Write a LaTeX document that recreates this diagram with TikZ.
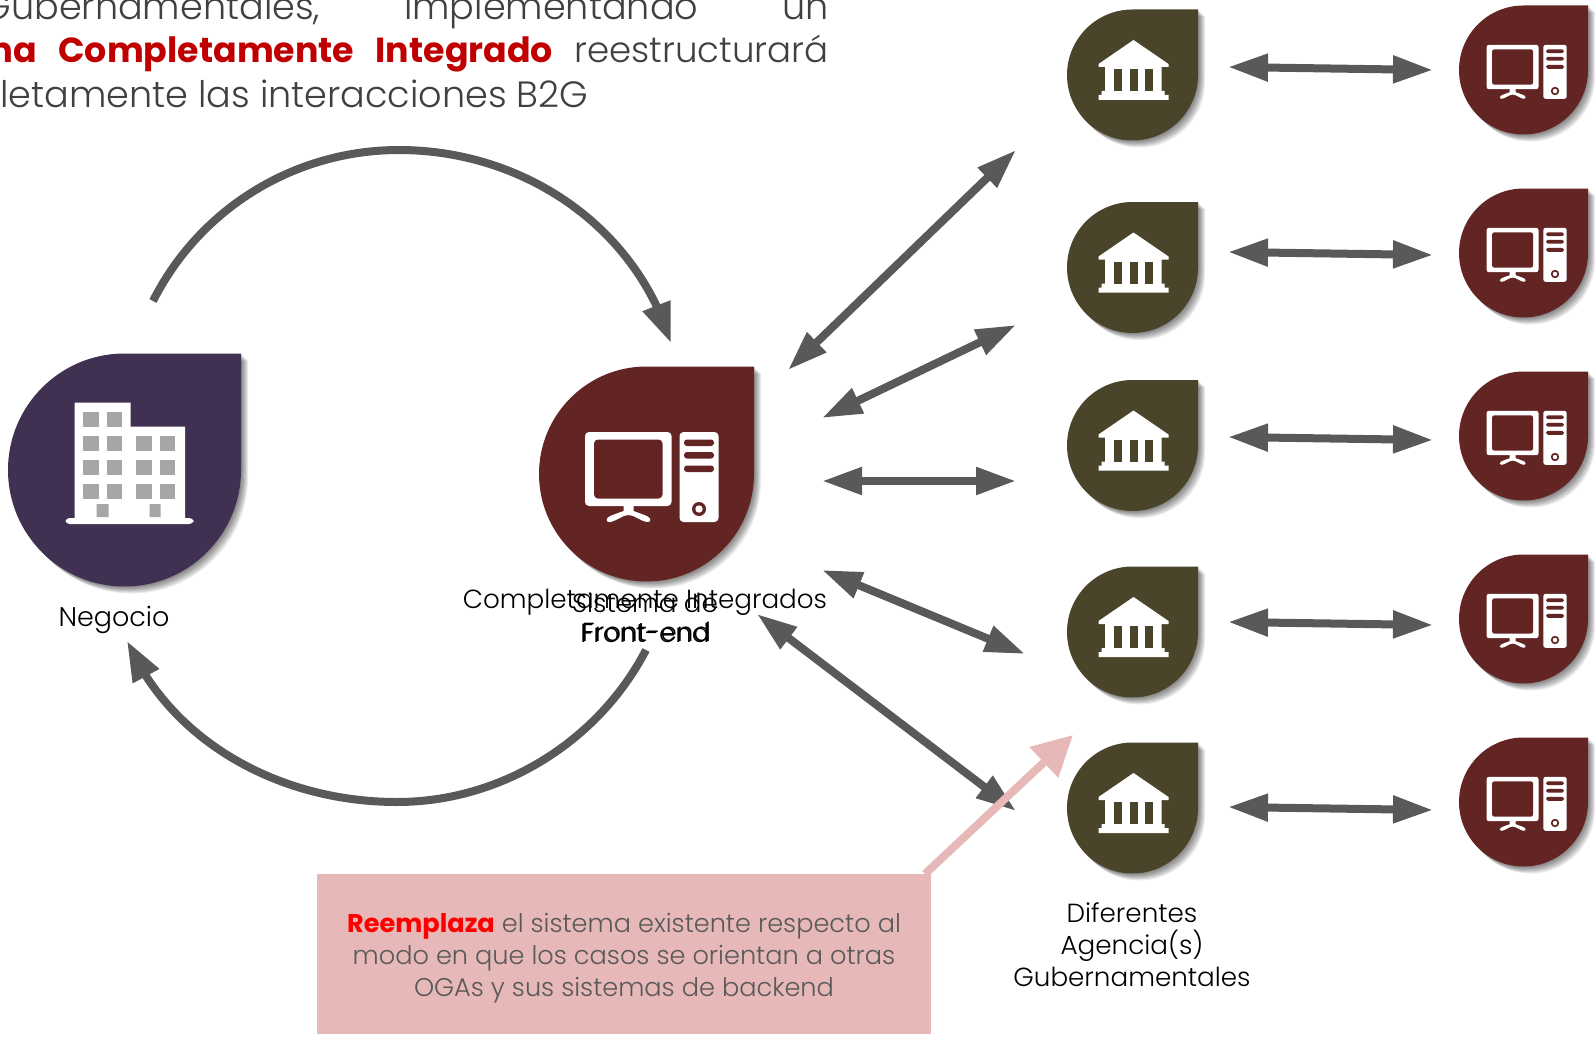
\documentclass[tikz,border=0pt]{standalone}
\usepackage{fontspec}
\setmainfont{Poppins Light}[BoldFont={Poppins Bold}]
\usetikzlibrary{arrows.meta,bending}
\definecolor{gris}{HTML}{595959}
\definecolor{rosa}{HTML}{E6B8B7}
\definecolor{morado}{HTML}{403152}
\definecolor{vino}{HTML}{632523}
\definecolor{oliva}{HTML}{4A452A}
\newcommand{\gota}[5]{
\coordinate (#1) at (#2,#3);
\begin{scope}[shift={(#2,#3)}]
\foreach \d in {1,...,7}{
\fill[black,opacity=.08,shift={(\d,\d)}] (0,-#4) -- (#4,-#4) -- (#4,0) arc[start angle=0,end angle=270,radius=#4] -- cycle;}
\fill[#5] (0,-#4) -- (#4,-#4) -- (#4,0) arc[start angle=0,end angle=270,radius=#4] -- cycle;
\end{scope}}
\newcommand{\compu}[4]{
\begin{scope}[shift={(#1,#2)},scale=#3]
\fill[white,rounded corners=#3*2pt] (-61.5,-42) rectangle (25,32);
\fill[#4,rounded corners=#3*2pt] (-52.5,-34.5) rectangle (16,24.5);
\fill[white] (-23,31) -- (-13,31) -- (-13,37) .. controls (-8,39) and (-1,41) .. (2,43) .. controls (5,45) and (4,49) .. (0,48) .. controls (-6,47) and (-12,41) .. (-18,41) .. controls (-24,41) and (-30,47) .. (-36,48) .. controls (-40,49) and (-41,45) .. (-38,43) .. controls (-35,41) and (-28,39) .. (-23,37) -- cycle;
\fill[white,rounded corners=#3*2pt] (33,-42) rectangle (72,48);
\foreach \a/\b in {-34.5/-28,-22/-15.5,-8.5/-2}
\fill[#4,rounded corners=#3*1.5pt] (37.5,\a) rectangle (67.5,\b);
\fill[#4] (52.5,35) circle[radius=7];
\fill[white] (52.5,35) circle[radius=3.7];
\end{scope}}
\newcommand{\banco}[4]{
\begin{scope}[shift={(#1,#2)}]
\fill[white] (1,-35) -- (36,-11) -- (36,-8) -- (29,-8) -- (29,16) -- (32,16) -- (32,20) -- (36,20) -- (36,25) -- (-34,25) -- (-34,20) -- (-31,20) -- (-31,16) -- (-27.5,16) -- (-27.5,-8) -- (-34,-8) -- (-34,-11) -- cycle;
\foreach \a/\b in {-18.5/-11,-3/5,12.5/20}
\fill[#4] (\a,-6) rectangle (\b,16);
\end{scope}}
\begin{document}
\begin{tikzpicture}
[x=0.5pt,y=-0.5pt,every node/.style={inner sep=0pt,font=\fontsize{13.1}{16}\selectfont},
flecha/.style={gris,line width=4pt,{Triangle[length=20pt,width=13pt]}-{Triangle[length=20pt,width=13pt]}},
curva/.style={gris,line width=4pt,-{Triangle[length=20pt,width=14pt]}},
encabezado/.style={anchor=base east,font=\fontsize{18.3}{22}\selectfont,text=black!75},
cajatexto/.style={anchor=base,text=gris,font=\fontsize{12.8}{16}\selectfont}]
\clip (0,0) rectangle (1595,1038);
\fill[white] (0,0) rectangle (1595,1038);

\node[encabezado] (t1) at (829,20) {\makebox[420pt][s]{\hspace{-3pt}Gubernamentales,\hfill implementando\hfill un}};
\node[encabezado] (t2) at (829,63) {\makebox[426pt][s]{\textcolor[HTML]{C00000}{\fontsize{17.4}{22}\selectfont\textbf{ma\hfill Completamente\hfill Integrado}}\hfill {\fontsize{17.8}{22}\selectfont reestructurará}}};
\node[encabezado,anchor=base west] (t3) at (0,108) {letamente las interacciones B2G};

\gota{neg}{124.5}{470}{116.5}{morado}
\fill[white] (74.5,402.5) rectangle (130.5,518.5) (130.5,426.5) rectangle (185,518.5);
\fill[white,rounded corners=2pt] (65.5,518) rectangle (193.5,524);
\begin{scope}[shift={(124.5,470)}]
\foreach \y in {-58,-34,-10,14}
\foreach \x in {-41.5,-18}
\fill[black!35] (\x,\y) rectangle +(15.7,15.3);
\foreach \y in {-34,-10,14}
\foreach \x in {11.5,35}
\fill[black!35] (\x,\y) rectangle +(15.7,15.3);
\fill[black!35] (-28,34) rectangle (-16,47) (25,34) rectangle (36,47);
\end{scope}

\gota{front}{646.5}{474}{107.5}{vino}
\compu{646.5}{474}{1}{vino}

\gota{ag1}{1132.5}{75}{65.5}{oliva}
\gota{ag2}{1132.5}{267.5}{65.5}{oliva}
\gota{ag3}{1132.5}{445.5}{65.5}{oliva}
\gota{ag4}{1132.5}{632}{65.5}{oliva}
\gota{ag5}{1132.5}{808}{65.5}{oliva}
\foreach \y in {75,267.5,445.5,632,808}
\banco{1132.5}{\y}{1}{oliva};

\gota{si1}{1523.5}{70}{64.5}{vino}
\gota{si2}{1523.5}{253}{64.5}{vino}
\gota{si3}{1523.5}{436}{64.5}{vino}
\gota{si4}{1523.5}{619}{64.5}{vino}
\gota{si5}{1523.5}{802}{64.5}{vino}
\foreach \y in {70,253,436,619,802}
\compu{1523.5}{\y}{.6}{vino};

\coordinate (h1a) at (1228,67);
\coordinate (h1b) at (1433,70);
\coordinate (h2a) at (1228,252);
\coordinate (h2b) at (1433,255);
\coordinate (h3a) at (1228,437);
\coordinate (h3b) at (1433,440);
\coordinate (h4a) at (1228,622);
\coordinate (h4b) at (1433,625);
\coordinate (h5a) at (1228,807);
\coordinate (h5b) at (1433,810);
\draw[flecha] (h1a) to (h1b);
\draw[flecha] (h2a) to (h2b);
\draw[flecha] (h3a) to (h3b);
\draw[flecha] (h4a) to (h4b);
\draw[flecha] (h5a) to (h5b);

\coordinate (f1a) at (788,370);
\coordinate (f1b) at (1016,150);
\coordinate (f2a) at (822,418);
\coordinate (f2b) at (1016,325);
\coordinate (f3a) at (822,481);
\coordinate (f3b) at (1016,481);
\coordinate (f4a) at (822,570);
\coordinate (f4b) at (1025,654);
\coordinate (f5a) at (757,614);
\coordinate (f5b) at (1016,811);
\draw[flecha] (f1a) to (f1b);
\draw[flecha] (f2a) to (f2b);
\draw[flecha] (f3a) to (f3b);
\draw[flecha] (f4a) to (f4b);
\draw[flecha] (f5a) to (f5b);

\coordinate (c1) at (153,301);
\coordinate (c2) at (399,150);
\coordinate (c3) at (671,343);
\coordinate (c4) at (646,650);
\coordinate (c5) at (397,802);
\coordinate (c6) at (127,641);
\draw[curva] (c1) .. controls (200,208) and (295,150) .. (c2) .. controls (522,150) and (635,225) .. (c3);
\draw[curva] (c4) .. controls (598,742) and (501,802) .. (c5) .. controls (283,802) and (173,745) .. (c6);

\node[anchor=base,font=\fontsize{13.5}{16}\selectfont] (neg1) at (114,626) {Negocio};
\node[anchor=base] (fr1) at (645,608) {Completamente Integrados};
\node[anchor=base] (fr2) at (645,642) {Front-end};
\node[anchor=base] (fr3) at (645,612) {Sistema de};
\node[anchor=base] (fr4) at (646.5,641) {Front-end};
\node[anchor=base] (ag6) at (1132,922) {Diferentes};
\node[anchor=base] (ag7) at (1132,954) {Agencia(s)};
\node[anchor=base] (ag8) at (1132,986) {Gubernamentales};

\node[fill=rosa,minimum width=307pt,minimum height=80pt,anchor=north west] (caja) at (317,874) {};
\coordinate (pun) at (1073,735);
\coordinate (sal) at (925,874);
\draw[rosa,line width=4pt,-{Triangle[length=20pt,width=20pt]}] (sal) to (pun);
\node[cajatexto] (cj1) at (624,932) {\textcolor{red}{\textbf{Reemplaza}} el sistema existente respecto al};
\node[cajatexto] (cj2) at (624,964) {modo en que los casos se orientan a otras};
\node[cajatexto] (cj3) at (624,996) {OGAs y sus sistemas de backend};
\end{tikzpicture}
\end{document}
